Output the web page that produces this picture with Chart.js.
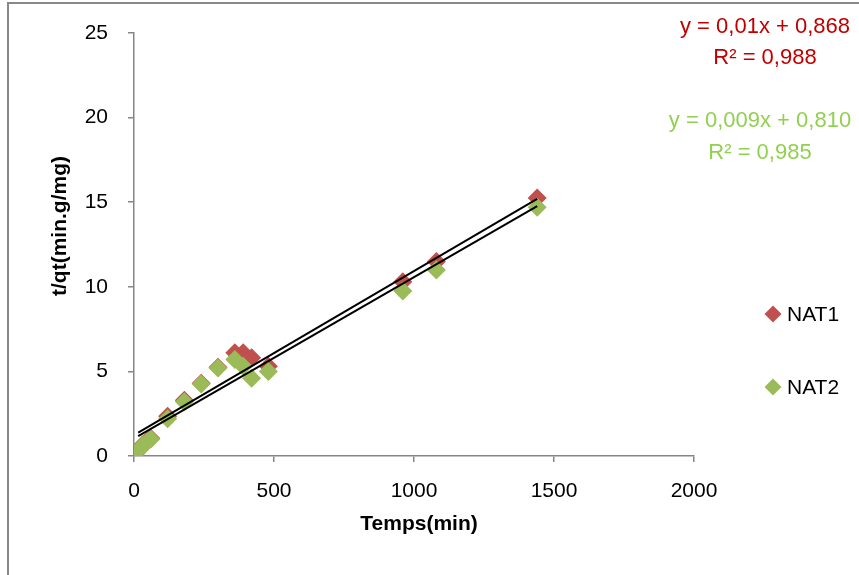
<!DOCTYPE html>
<html lang="fr">
  <head>
    <meta charset="UTF-8" />
    <title>t/qt vs Temps</title>
    <script src="https://cdn.jsdelivr.net/npm/chart.js"></script>
    <style>
      body {
        margin: 0;
        background: #fff;
      }
      .chart-box {
        width: 859px;
        height: 575px;
      }
    </style>
  </head>
  <body>
    <div class="chart-box"><canvas id="kineticChart"></canvas></div>

    <script>
      // data
      const times = [10, 20, 30, 45, 60, 120, 180, 240, 300, 360, 390, 420, 480, 960, 1080, 1440];
      const nat1 = [0.25, 0.45, 0.65, 0.85, 1.05, 2.35, 3.3, 4.3, 5.25, 6.1, 6.1, 5.8, 5.3, 10.3, 11.5, 15.25];
      const nat2 = [0.2, 0.4, 0.6, 0.8, 1.0, 2.2, 3.2, 4.25, 5.2, 5.7, 5.3, 4.6, 5.0, 9.75, 11.0, 14.7];
      // trendlines as drawn in the figure (start / end of each line)
      const trendX = [15, 1440];
      const trendNat1 = [1.38, 15.2];
      const trendNat2 = [1.18, 14.77];
      const xTicks = [0, 500, 1000, 1500, 2000];
      const yTicks = [0, 5, 10, 15, 20, 25];
      const eqNat1 = ["y = 0,01x + 0,868", "R² = 0,988"];
      const eqNat2 = ["y = 0,009x + 0,810", "R² = 0,985"];

      const FONT = "'Liberation Sans', Arial, sans-serif";
      const RED = "#C0504D";
      const GREEN = "#9BBB59";
      const AXIS = "#868686";

      function toPoints(xs, ys) {
        return xs.map((x, i) => ({ x: x, y: ys[i] }));
      }

      const extras = {
        id: "extras",
        beforeDraw(chart) {
          const ctx = chart.ctx;
          ctx.save();
          ctx.fillStyle = "#fff";
          ctx.fillRect(0, 0, chart.width, chart.height);
          ctx.strokeStyle = "#898989";
          ctx.lineWidth = 2;
          ctx.strokeRect(8, 3, 900, 700);
          ctx.restore();
        },
        afterDraw(chart) {
          const ctx = chart.ctx;
          ctx.save();
          // axis titles
          ctx.fillStyle = "#000";
          ctx.font = "bold 21px " + FONT;
          ctx.textAlign = "center";
          ctx.textBaseline = "middle";
          ctx.fillText("Temps(min)", 419, 524);
          ctx.translate(60, 226);
          ctx.rotate(-Math.PI / 2);
          ctx.fillText("t/qt(min.g/mg)", 0, 0);
          ctx.restore();

          // trendline equations
          ctx.save();
          ctx.font = "22px " + FONT;
          ctx.textAlign = "center";
          ctx.textBaseline = "middle";
          ctx.fillStyle = "#C00000";
          ctx.fillText(eqNat1[0], 765, 27);
          ctx.fillText(eqNat1[1], 765, 58);
          ctx.fillStyle = "#92D050";
          ctx.fillText(eqNat2[0], 760, 121);
          ctx.fillText(eqNat2[1], 760, 153);

          // legend
          const items = [
            { label: "NAT1", color: RED, y: 314 },
            { label: "NAT2", color: GREEN, y: 387 },
          ];
          ctx.font = "21px " + FONT;
          ctx.textAlign = "left";
          items.forEach((it) => {
            ctx.fillStyle = it.color;
            ctx.beginPath();
            ctx.moveTo(773, it.y - 8.5);
            ctx.lineTo(781.5, it.y);
            ctx.lineTo(773, it.y + 8.5);
            ctx.lineTo(764.5, it.y);
            ctx.closePath();
            ctx.fill();
            ctx.fillStyle = "#000";
            ctx.fillText(it.label, 787, it.y + 1);
          });
          ctx.restore();
        },
      };

      const ctxChart = document.getElementById("kineticChart").getContext("2d");
      const kineticChart = new Chart(ctxChart, {
        type: "scatter",
        data: {
          datasets: [
            {
              label: "trend NAT1",
              type: "line",
              data: toPoints(trendX, trendNat1),
              borderColor: "#000",
              borderWidth: 2,
              pointRadius: 0,
              order: 1,
            },
            {
              label: "trend NAT2",
              type: "line",
              data: toPoints(trendX, trendNat2),
              borderColor: "#000",
              borderWidth: 2,
              pointRadius: 0,
              order: 1,
            },
            {
              label: "NAT2",
              data: toPoints(times, nat2),
              pointStyle: "rectRot",
              pointRadius: 9.5,
              backgroundColor: GREEN,
              borderColor: GREEN,
              borderWidth: 0,
              order: 2,
            },
            {
              label: "NAT1",
              data: toPoints(times, nat1),
              pointStyle: "rectRot",
              pointRadius: 9.5,
              backgroundColor: RED,
              borderColor: RED,
              borderWidth: 0,
              order: 3,
            },
          ],
        },
        options: {
          responsive: true,
          maintainAspectRatio: false,
          animation: false,
          layout: { padding: { left: 0, right: 165, top: 33, bottom: 0 } },
          plugins: {
            legend: { display: false },
            tooltip: { enabled: false },
          },
          scales: {
            x: {
              type: "linear",
              min: 0,
              max: 2000,
              afterBuildTicks: (scale) => {
                scale.ticks = xTicks.map((v) => ({ value: v }));
              },
              afterFit: (scale) => {
                scale.height = 119;
              },
              ticks: {
                color: "#000",
                font: { family: FONT, size: 21 },
                padding: 17,
                maxRotation: 0,
                callback: (v) => String(v),
              },
              grid: {
                drawOnChartArea: false,
                tickLength: 6,
                color: AXIS,
                lineWidth: 1.5,
              },
              border: { color: AXIS, width: 1.5 },
            },
            y: {
              min: 0,
              max: 25,
              afterBuildTicks: (scale) => {
                scale.ticks = yTicks.map((v) => ({ value: v }));
              },
              afterFit: (scale) => {
                scale.width = 134;
              },
              ticks: {
                color: "#000",
                font: { family: FONT, size: 21 },
                padding: 20,
                callback: (v) => String(v),
              },
              grid: {
                drawOnChartArea: false,
                tickLength: 6,
                color: AXIS,
                lineWidth: 1.5,
              },
              border: { color: AXIS, width: 1.5 },
            },
          },
        },
        plugins: [extras],
      });
    </script>
  </body>
</html>
